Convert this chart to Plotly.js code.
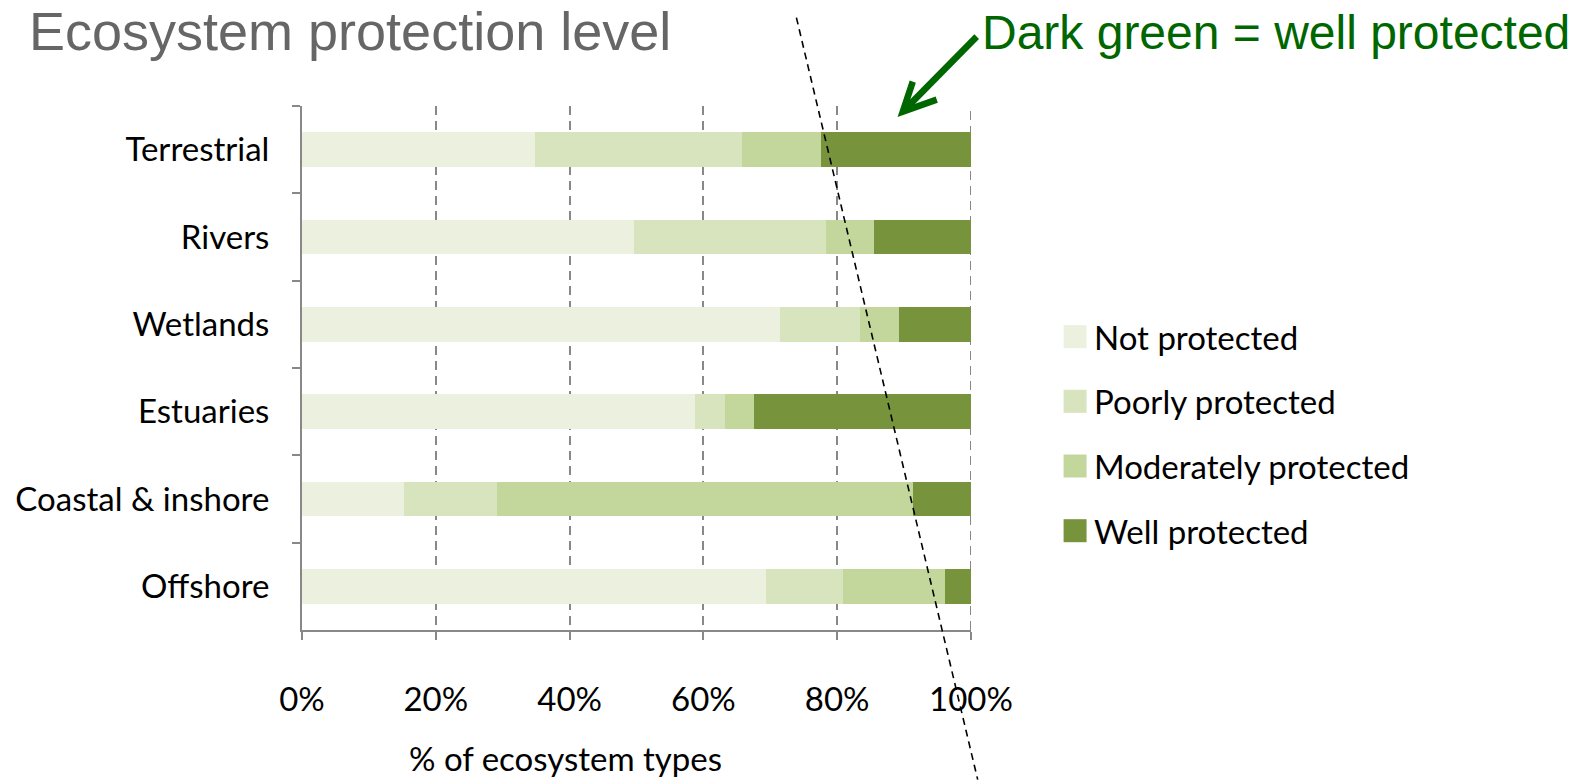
<!DOCTYPE html>
<html>
<head>
<meta charset="utf-8">
<script src="https://cdn.plot.ly/plotly-3.0.1.min.js"></script>
<style>
  html, body { margin: 0; padding: 0; background: #ffffff; }
  #chart { width: 1589px; height: 780px; }
</style>
</head>
<body>
<div id="chart"></div>
<script>
// Ecosystem categories, top to bottom
const categories = ['Terrestrial', 'Rivers', 'Wetlands', 'Estuaries', 'Coastal & inshore', 'Offshore'];

// Share of ecosystem types (%) in each protection class
const notProtected        = [34.8, 49.7, 71.5, 58.7, 15.3, 69.4];
const poorlyProtected     = [30.9, 28.6, 11.9,  4.5, 13.8, 11.5];
const moderatelyProtected = [11.9,  7.2,  5.8,  4.3, 62.3, 15.2];
const wellProtected       = [22.4, 14.5, 10.8, 32.5,  8.6,  3.9];

const seriesNames = ['Not protected', 'Poorly protected', 'Moderately protected', 'Well protected'];
const seriesValues = [notProtected, poorlyProtected, moderatelyProtected, wellProtected];
const seriesColors = ['#EBF1DE', '#D7E4BD', '#C3D69B', '#77933C'];

const xTickVals = [0, 20, 40, 60, 80, 100];
const xTickText = ['0%', '20%', '40%', '60%', '80%', '100%'];

// Plot-area geometry in pixels
const W = 1589, H = 780;
const M = { l: 301.5, r: 617.7, t: 106.4, b: 149.6 };
const PW = W - M.l - M.r, PH = H - M.t - M.b;
const px = x => (x - M.l) / PW;          // pixel x -> paper x
const py = y => (H - M.b - y) / PH;      // pixel y -> paper y

const labelFont = { family: 'Lato, Carlito, Calibri, sans-serif', size: 33, color: '#000000' };
const gridColor = '#888888';

const traces = seriesNames.map((name, i) => ({
  type: 'bar',
  orientation: 'h',
  name: name,
  x: seriesValues[i],
  y: categories,
  marker: { color: seriesColors[i], line: { width: 0 } },
  showlegend: false,
  hoverinfo: 'x+name'
}));

const shapes = [];
const annotations = [];

// Gridline on the 100% edge of the value axis
shapes.push({
  type: 'line', xref: 'x', yref: 'paper', layer: 'below',
  x0: xTickVals[xTickVals.length - 1], x1: xTickVals[xTickVals.length - 1], y0: 0, y1: 1,
  line: { color: gridColor, width: 2, dash: '9px,6px' }
});

// Hand-built legend: swatch squares and labels
const legendX = 1064, legendSwatch = 23, legendRow0 = 337, legendStep = 64.7;
seriesNames.forEach((name, i) => {
  const cy = legendRow0 + i * legendStep;
  shapes.push({
    type: 'rect', xref: 'paper', yref: 'paper',
    x0: px(legendX), x1: px(legendX + legendSwatch),
    y0: py(cy + legendSwatch / 2), y1: py(cy - legendSwatch / 2),
    fillcolor: seriesColors[i], line: { width: 0 }
  });
  annotations.push({
    xref: 'paper', yref: 'paper', x: px(legendX + 28), y: py(cy),
    xanchor: 'left', yanchor: 'middle', showarrow: false,
    text: name, font: labelFont
  });
});

// Dashed guide line crossing the chart
shapes.push({
  type: 'line', xref: 'paper', yref: 'paper',
  x0: px(796.5), y0: py(18), x1: px(978), y1: py(780),
  line: { color: '#000000', width: 1.6, dash: '7px,5px' }
});

// Green pointer arrow: shaft and open head
const tip = [903, 112];
shapes.push({
  type: 'path', xref: 'paper', yref: 'paper',
  path: `M ${px(977)} ${py(37)} L ${px(tip[0])} ${py(tip[1])}`,
  line: { color: '#006600', width: 6.5 }
});
shapes.push({
  type: 'path', xref: 'paper', yref: 'paper',
  path: `M ${px(913)} ${py(82)} L ${px(tip[0])} ${py(tip[1])} L ${px(937)} ${py(100)}`,
  line: { color: '#006600', width: 6.5 }
});

annotations.push({
  xref: 'paper', yref: 'paper', x: px(980), y: py(33),
  xanchor: 'left', yanchor: 'middle', showarrow: false,
  text: 'Dark green = well protected',
  font: { family: 'Liberation Sans, Arial, sans-serif', size: 48, color: '#006600' }
});

// X-axis caption
annotations.push({
  xref: 'paper', yref: 'paper', x: px(565.5), y: py(758),
  xanchor: 'center', yanchor: 'middle', showarrow: false,
  text: '% of ecosystem types', font: labelFont
});

const layout = {
  width: W, height: H,
  margin: M,
  paper_bgcolor: '#ffffff',
  plot_bgcolor: '#ffffff',
  barmode: 'stack',
  bargap: 0.6,
  showlegend: false,
  title: {
    text: 'Ecosystem protection level',
    xref: 'container', yref: 'container',
    x: 29 / W, xanchor: 'left',
    y: 1 - 31.5 / H, yanchor: 'middle',
    font: { family: 'Liberation Sans, Arial, sans-serif', size: 54, color: '#666666' }
  },
  xaxis: {
    range: [0, 100],
    tickvals: xTickVals,
    ticktext: xTickText,
    showgrid: true,
    gridcolor: gridColor,
    gridwidth: 2,
    griddash: '9px,6px',
    zeroline: false,
    showline: true,
    linecolor: gridColor,
    linewidth: 2,
    ticks: 'outside',
    ticklen: 8,
    tickwidth: 2,
    tickcolor: gridColor,
    ticklabelstandoff: 31,
    tickfont: labelFont,
    fixedrange: true
  },
  yaxis: {
    type: 'category',
    categoryorder: 'array',
    categoryarray: categories,
    autorange: 'reversed',
    showgrid: false,
    zeroline: false,
    showline: true,
    linecolor: gridColor,
    linewidth: 2,
    ticks: 'outside',
    tickson: 'boundaries',
    ticklen: 8,
    tickwidth: 2,
    tickcolor: gridColor,
    ticklabelstandoff: 24,
    tickfont: labelFont,
    fixedrange: true
  },
  shapes: shapes,
  annotations: annotations
};

Plotly.newPlot('chart', traces, layout, { displayModeBar: false, staticPlot: true });
</script>
</body>
</html>
